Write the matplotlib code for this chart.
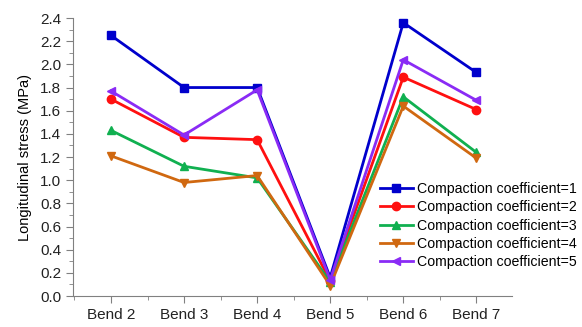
import matplotlib
matplotlib.use("Agg")
import matplotlib.pyplot as plt
from matplotlib.ticker import MultipleLocator, FixedLocator

plt.rcParams['font.family'] = ['Liberation Sans', 'DejaVu Sans']

categories = ["Bend 2", "Bend 3", "Bend 4", "Bend 5", "Bend 6", "Bend 7"]
coef1 = [2.25, 1.80, 1.80, 0.16, 2.36, 1.93]
coef2 = [1.70, 1.37, 1.35, 0.13, 1.89, 1.61]
coef3 = [1.43, 1.12, 1.02, 0.12, 1.72, 1.24]
coef4 = [1.21, 0.98, 1.04, 0.09, 1.64, 1.19]
coef5 = [1.77, 1.39, 1.78, 0.14, 2.04, 1.69]
labels = ["Compaction coefficient=1", "Compaction coefficient=2",
          "Compaction coefficient=3", "Compaction coefficient=4",
          "Compaction coefficient=5"]

series = [coef1, coef2, coef3, coef4, coef5]
colors = ["#0000CC", "#FF1010", "#10B050", "#D06810", "#8A2BF5"]
markers = ["s", "o", "^", "v", "<"]

fig = plt.figure(figsize=(5.82, 3.27), dpi=100)
ax = fig.add_axes([0.1254, 0.0948, 0.7546, 0.85])

x = list(range(len(categories)))
for vals, c, m, lab in zip(series, colors, markers, labels):
    ax.plot(x, vals, color=c, marker=m, markersize=6, linewidth=2, label=lab)

ax.set_xlim(-0.52, 5.49)
ax.set_ylim(0, 2.4)
ax.set_xticks(x)
ax.set_xticklabels(categories, fontsize=11)
ax.xaxis.set_minor_locator(FixedLocator([i + 0.5 for i in range(-1, 6)]))
ax.yaxis.set_major_locator(MultipleLocator(0.2))
ax.yaxis.set_minor_locator(MultipleLocator(0.1))
ax.set_yticklabels([f"{v:.1f}" for v in ax.get_yticks()], fontsize=11)
ax.set_ylabel("Longitudinal stress (MPa)", fontsize=10.5, labelpad=6)

for s in ("top", "right"):
    ax.spines[s].set_visible(False)
for s in ("left", "bottom"):
    ax.spines[s].set_color("#808080")
ax.tick_params(which="major", direction="out", length=5, color="#808080", labelcolor="#222222")
ax.tick_params(which="minor", direction="out", length=3, color="#808080")

ax.legend(loc="upper left", bbox_to_anchor=(0.699, 0.41), frameon=False,
          fontsize=10.2, handlelength=2.3, handletextpad=0.3, labelspacing=0.3,
          borderaxespad=0, borderpad=0)

fig.savefig("out.png", dpi=100)
